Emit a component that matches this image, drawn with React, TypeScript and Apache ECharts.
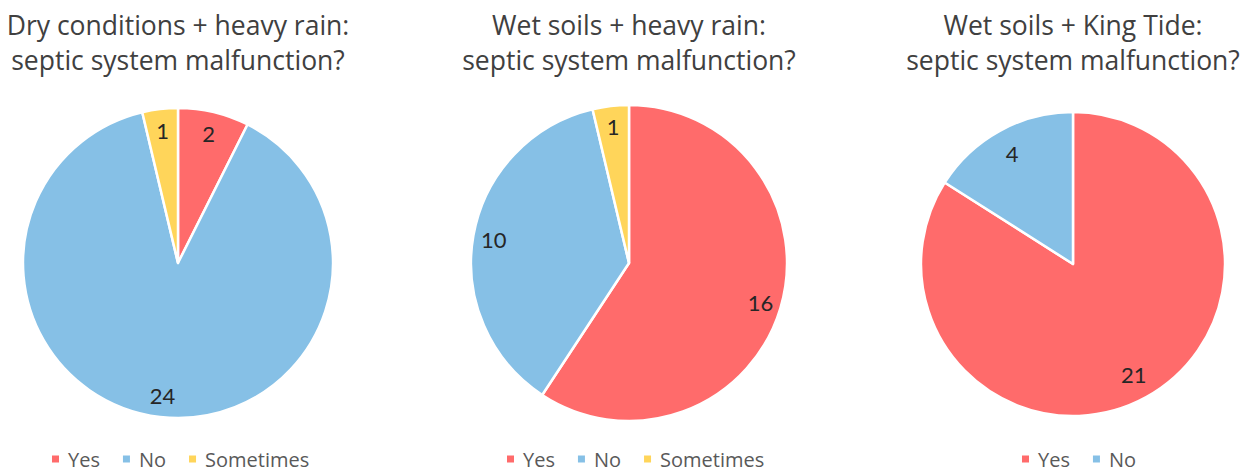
import { useEffect, useRef } from 'react';
import * as echarts from 'echarts';

// Survey answers: does the septic system malfunction under each condition?
const categories = ['Yes', 'No', 'Sometimes'];
const chartTitles = [
  'Dry conditions + heavy rain:\nseptic system malfunction?',
  'Wet soils + heavy rain:\nseptic system malfunction?',
  'Wet soils + King Tide:\nseptic system malfunction?',
];
const dryHeavyRain = [2, 24, 1];
const wetHeavyRain = [16, 10, 1];
const wetKingTide = [21, 4];

const COLORS = ['#FF6B6B', '#86C0E6', '#FFD55A'];
const FONT = '"Open Sans", Lato, sans-serif';
const LABEL_FONT = 'Lato, "Open Sans", sans-serif';

// Layout of the three pies: centre, radius, inner radius of the label ring, legend left edge
const PIES = [
  { values: dryHeavyRain, cx: 178, cy: 263, r: 155, labelInner: 0.68, legendLeft: 50 },
  { values: wetHeavyRain, cx: 629, cy: 263, r: 158, labelInner: 0.7, legendLeft: 505 },
  { values: wetKingTide, cx: 1073, cy: 264, r: 152, labelInner: 0.62, legendLeft: 1020 },
];

export default function App() {
  const ref = useRef<HTMLDivElement>(null);

  useEffect(() => {
    if (!ref.current) return;
    const chart = echarts.init(ref.current, undefined, { renderer: 'svg' });

    const series: any[] = [];
    PIES.forEach((p) => {
      // filled slices
      series.push({
        type: 'pie',
        center: [p.cx, p.cy],
        radius: p.r,
        startAngle: 90,
        clockwise: true,
        silent: true,
        data: p.values.map((v, i) => ({
          name: categories[i],
          value: v,
          itemStyle: { color: COLORS[i] },
        })),
        itemStyle: { borderColor: '#ffffff', borderWidth: 2.5 },
        label: { show: false },
        labelLine: { show: false },
        emphasis: { disabled: true },
      });
      // transparent ring carrying the value labels near the outer edge
      series.push({
        type: 'pie',
        center: [p.cx, p.cy],
        radius: [p.r * p.labelInner, p.r],
        startAngle: 90,
        clockwise: true,
        silent: true,
        legendHoverLink: false,
        data: p.values.map((v, i) => ({
          name: categories[i],
          value: v,
          itemStyle: { color: 'rgba(0,0,0,0)' },
        })),
        itemStyle: { borderWidth: 0 },
        label: {
          show: true,
          position: 'inside',
          formatter: '{c}',
          fontFamily: LABEL_FONT,
          fontSize: 22,
          color: '#262626',
        },
        labelLine: { show: false },
        emphasis: { disabled: true },
      });
    });

    chart.setOption({
      animation: false,
      backgroundColor: '#ffffff',
      title: PIES.map((p, k) => ({
        text: chartTitles[k],
        left: p.cx,
        top: 7,
        textAlign: 'center',
        padding: 0,
        textStyle: {
          fontFamily: FONT,
          fontSize: 26.5,
          fontWeight: 'normal',
          color: '#404040',
          lineHeight: 35,
        },
      })),
      legend: PIES.map((p) => ({
        left: p.legendLeft,
        top: 449,
        padding: 0,
        orient: 'horizontal',
        icon: 'rect',
        itemWidth: 9,
        itemHeight: 9,
        itemGap: 21,
        selectedMode: false,
        data: p.values.map((_, i) => ({
          name: categories[i],
          itemStyle: { color: COLORS[i] },
        })),
        textStyle: {
          fontFamily: FONT,
          fontSize: 20,
          lineHeight: 20,
          color: '#595959',
          padding: [0, 0, 0, 3],
        },
      })),
      series,
    });

    return () => chart.dispose();
  }, []);

  return (
    <div
      ref={ref}
      style={{ position: 'fixed', left: 0, top: 0, width: 1255, height: 474, background: '#fff' }}
    />
  );
}
